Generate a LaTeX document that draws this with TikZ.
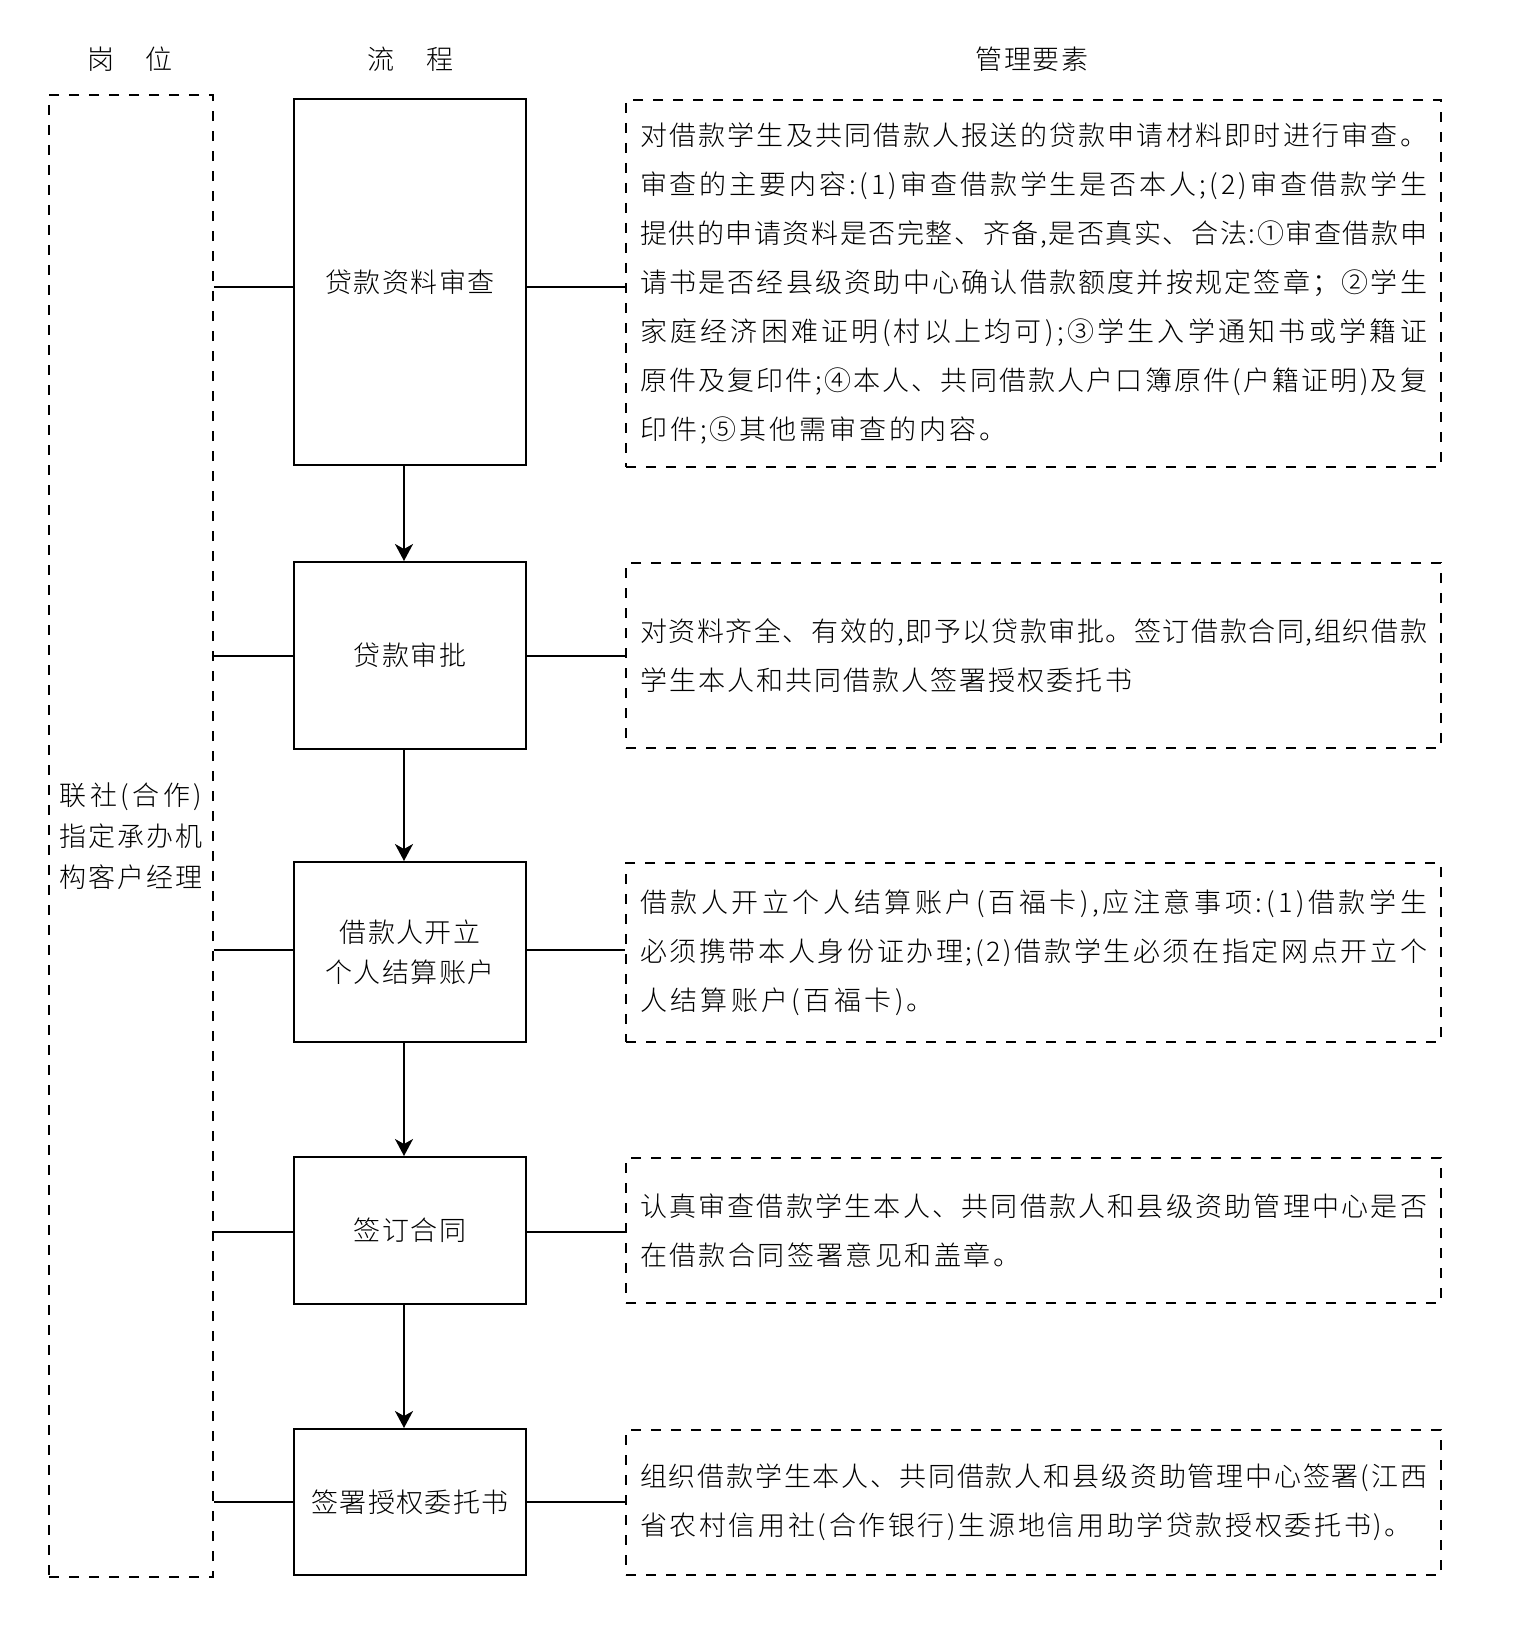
\documentclass[tikz,border=0pt]{standalone}
\usepackage{fontspec}
\setmainfont{Noto Sans CJK SC Light}
\usetikzlibrary{arrows.meta}
\makeatletter
\def\sp@loop#1{\ifx#1\@nil\else#1\hskip\sp@glue\relax\expandafter\sp@loop\fi}
\newcommand\spreadto[2]{\hbox to #1{\def\sp@glue{0pt plus 1fil minus 1fil}\sp@loop#2\@nil\unskip}}
\newcommand\gapline[2]{\hbox{\def\sp@glue{#1}\sp@loop#2\@nil\unskip}}
\makeatother
\newdimen\rtw \rtw=393.5pt
\newcommand\rblock[1]{\vbox{\baselineskip=24.5pt\lineskiplimit=0pt #1}}
\tikzset{
  txt/.style={inner sep=0pt, font=\fontsize{13.5pt}{20pt}\selectfont},
  pbox/.style={txt, draw, line width=1pt, minimum width=116pt, align=center},
  dbox/.style={txt, draw, line width=0.75pt, dash pattern=on 5pt off 5pt},
  rbox/.style={dbox, minimum width=407.5pt},
  conn/.style={line width=1pt},
  arr/.style={line width=1pt, -{Stealth[length=8.5pt,width=9pt,inset=2.5pt]}},
}
\begin{document}
\begin{tikzpicture}[x=0.5pt,y=-0.5pt]
\useasboundingbox (0,0) rectangle (1516,1627);
% headers
\node[txt] (h1) at (130,59) {岗\hspace{16pt}位};
\node[txt] (h2) at (410,59) {流\hspace{16pt}程};
\node[txt] (h3) at (1032,59) {\gapline{0.75pt}{管理要素}};
% left post box
\node[dbox, minimum width=82pt, minimum height=741pt] (L) at (131,836)
  {\vbox{\baselineskip=20.5pt
   \spreadto{71.5pt}{联社(合作)}
   \spreadto{71.5pt}{指定承办机}
   \spreadto{71.5pt}{构客户经理}}};
% process boxes
\node[pbox, minimum height=183pt] (b1) at (410,282) {\gapline{0.7pt}{贷款资料审查}};
\node[pbox, minimum height=93.5pt] (b2) at (410,655.5) {\gapline{0.7pt}{贷款审批}};
\node[pbox, minimum height=90pt] (b3) at (410,952) {\gapline{0.7pt}{借款人开立}\\\gapline{0.7pt}{个人结算账户}};
\node[pbox, minimum height=73.5pt] (b4) at (410,1230.5) {\gapline{0.7pt}{签订合同}};
\node[pbox, minimum height=73pt] (b5) at (410,1502) {\gapline{0.7pt}{签署授权委托书}};
% management boxes
\node[rbox, minimum height=183.5pt] (r1) at (1033.5,283.5) {\rblock{%
  \spreadto{\rtw}{对借款学生及共同借款人报送的贷款申请材料即时进行审查。}
  \spreadto{\rtw}{审查的主要内容:(1)审查借款学生是否本人;(2)审查借款学生}
  \spreadto{\rtw}{提供的申请资料是否完整、齐备,是否真实、合法:①审查借款申}
  \spreadto{\rtw}{请书是否经县级资助中心确认借款额度并按规定签章；②学生}
  \spreadto{\rtw}{家庭经济困难证明(村以上均可);③学生入学通知书或学籍证}
  \spreadto{\rtw}{原件及复印件;④本人、共同借款人户口簿原件(户籍证明)及复}
  \spreadto{183.5pt}{印件;⑤其他需审查的内容。}}};
\node[rbox, minimum height=92.5pt] (r2) at (1033.5,655.5) {\rblock{%
  \spreadto{\rtw}{对资料齐全、有效的,即予以贷款审批。签订借款合同,组织借款}
  \spreadto{246pt}{学生本人和共同借款人签署授权委托书}}};
\node[rbox, minimum height=89.5pt] (r3) at (1033.5,952.5) {\rblock{%
  \spreadto{\rtw}{借款人开立个人结算账户(百福卡),应注意事项:(1)借款学生}
  \spreadto{\rtw}{必须携带本人身份证办理;(2)借款学生必须在指定网点开立个}
  \spreadto{147pt}{人结算账户(百福卡)。}}};
\node[rbox, minimum height=72.5pt] (r4) at (1033.5,1230.5) {\rblock{%
  \spreadto{\rtw}{认真审查借款学生本人、共同借款人和县级资助管理中心是否}
  \spreadto{190pt}{在借款合同签署意见和盖章。}}};
\node[rbox, minimum height=72.5pt] (r5) at (1033.5,1502.5) {\rblock{%
  \spreadto{\rtw}{组织借款学生本人、共同借款人和县级资助管理中心签署(江西}
  \spreadto{386pt}{省农村信用社(合作银行)生源地信用助学贷款授权委托书)。}}};
% connectors
\foreach \i/\dy in {1/-2.3pt,2/0pt,3/1.2pt,4/-0.8pt,5/0pt}{
  \draw[conn] ([yshift=\dy]b\i.west -| L.east) -- ([yshift=\dy]b\i.west);
  \draw[conn] ([yshift=\dy]b\i.east) -- ([yshift=\dy]b\i.east -| r\i.west);
}
\foreach \i/\j in {1/2,2/3,3/4,4/5}{
  \draw[arr] ([xshift=-3pt]b\i.south) -- ([xshift=-3pt]b\j.north);
}
\end{tikzpicture}
\end{document}
